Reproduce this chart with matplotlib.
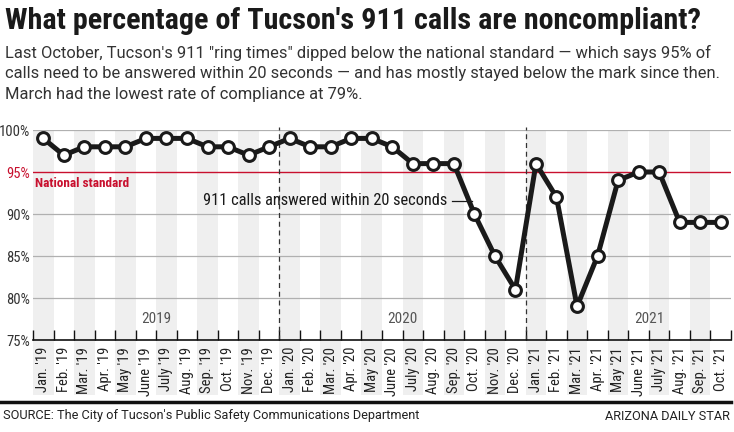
import matplotlib
matplotlib.use("Agg")
import matplotlib.pyplot as plt

# Monthly share of 911 calls answered within 20 seconds (%)
months = ["Jan. '19", "Feb. '19", "Mar. '19", "Apr. '19", "May '19", "June '19",
          "July '19", "Aug. '19", "Sep. '19", "Oct. '19", "Nov. '19", "Dec. '19",
          "Jan. '20", "Feb. '20", "Mar. '20", "Apr. '20", "May '20", "June '20",
          "July '20", "Aug. '20", "Sep. '20", "Oct. '20", "Nov. '20", "Dec. '20",
          "Jan. '21", "Feb. '21", "Mar. '21", "Apr. '21", "May '21", "June '21",
          "July '21", "Aug. '21", "Sep. '21", "Oct. '21"]
answered = [99, 97, 98, 98, 98, 99, 99, 99, 98, 98, 97, 98,
            99, 98, 98, 99, 99, 98, 96, 96, 96, 90, 85, 81,
            96, 92, 79, 85, 94, 95, 95, 89, 89, 89]
yticks = [75, 80, 85, 90, 95, 100]
years = ["2019", "2020", "2021"]
year_breaks = [11.5, 23.5]
standard = 95

COND = ["Roboto Condensed", "Liberation Sans Narrow", "Archivo Narrow", "DejaVu Sans"]
BODY = ["Roboto", "DejaVu Sans"]
RED = "#c8102e"

fig = plt.figure(figsize=(7.34, 4.32), dpi=100)
ax = fig.add_axes([33 / 734, 1 - 340 / 432, 698 / 734, 210 / 432])

n = len(months)
x = list(range(n))

# alternating month stripes, running down behind the labels
for i in range(0, n, 2):
    ax.axvspan(i - 0.5, i + 0.5, ymin=-0.26, ymax=1.0, color="#efefef",
               lw=0, zorder=0, clip_on=False)

for v in [80, 85, 90, 100]:
    ax.axhline(v, color="#b0b0b0", lw=0.9, zorder=1)
ax.axhline(standard, color=RED, lw=1.0, zorder=1)

for b in year_breaks:
    ax.plot([b, b], [75, 100.4], color="#333333", lw=0.9, ls=(0, (4, 3)),
            zorder=2, clip_on=False)

ax.plot(x, answered, color="#1a1a1a", lw=3.6, marker="o", ms=8.5,
        mfc="white", mec="#1a1a1a", mew=2.2, zorder=4, clip_on=False)

ax.set_xlim(-0.5, n - 0.5)
ax.set_ylim(75, 100)

ax.set_xticks(x)
ax.set_xticklabels(months, rotation=90, fontfamily=COND, fontsize=10.5,
                   color="#222222")
ax.tick_params(axis="x", which="major", length=0, pad=5)
ax.set_xticks([i - 0.5 for i in range(n + 1)], minor=True)
ax.tick_params(axis="x", which="minor", direction="in", length=7, width=1,
               color="#111111")

ax.set_yticks(yticks)
ax.set_yticklabels([f"{v}%" for v in yticks], fontfamily=COND, fontsize=10.5,
                   color="#333333")
ax.tick_params(axis="y", length=0, pad=2)
ax.get_yticklabels()[yticks.index(standard)].set_color(RED)

for s in ["top", "right", "left"]:
    ax.spines[s].set_visible(False)
ax.spines["bottom"].set_color("#111111")
ax.spines["bottom"].set_linewidth(1.2)

# year labels
for k, yr in enumerate(years):
    ax.text(5.5 + 12 * k, 77.5, yr, ha="center", va="center", fontsize=11,
            fontfamily=COND, color="#555555", zorder=3)

ax.text(-0.4, 93.6, "National standard", ha="left", va="center",
        fontsize=9.5, fontfamily=COND, fontweight="bold", color=RED, zorder=3)

ax.text(19.7, 91.6, "911 calls answered within 20 seconds", ha="right",
        va="center", fontsize=11.8, fontfamily=COND, color="#1a1a1a", zorder=3)
ax.plot([19.9, 20.9], [91.6, 91.6], color="#1a1a1a", lw=0.9, zorder=3)

# header
fig.text(5 / 734, 1 - 21 / 432, "What percentage of Tucson's 911 calls are noncompliant?",
         ha="left", va="center", fontsize=21.7, fontweight="bold",
         fontfamily=COND, color="#1a1a1a")
fig.text(5 / 734, 1 - 45 / 432,
         "Last October, Tucson's 911 \"ring times\" dipped below the national standard \u2014 which says 95% of\n"
         "calls need to be answered within 20 seconds \u2014 and has mostly stayed below the mark since then.\n"
         "March had the lowest rate of compliance at 79%.",
         ha="left", va="top", fontsize=11.9, fontfamily=BODY, color="#333333",
         linespacing=1.4)

# footer
fig.add_artist(plt.Line2D([0, 731 / 734], [1 - 402 / 432, 1 - 402 / 432],
                          color="#111111", lw=2.5, transform=fig.transFigure))
fig.text(3 / 734, 1 - 416 / 432,
         "SOURCE: The City of Tucson's Public Safety Communications Department",
         ha="left", va="center", fontsize=9.2, fontfamily=BODY, color="#222222")
fig.text(730 / 734, 1 - 416 / 432, "ARIZONA DAILY STAR", ha="right",
         va="center", fontsize=9.2, fontfamily=BODY, color="#222222")

fig.savefig("out.png", dpi=100)
